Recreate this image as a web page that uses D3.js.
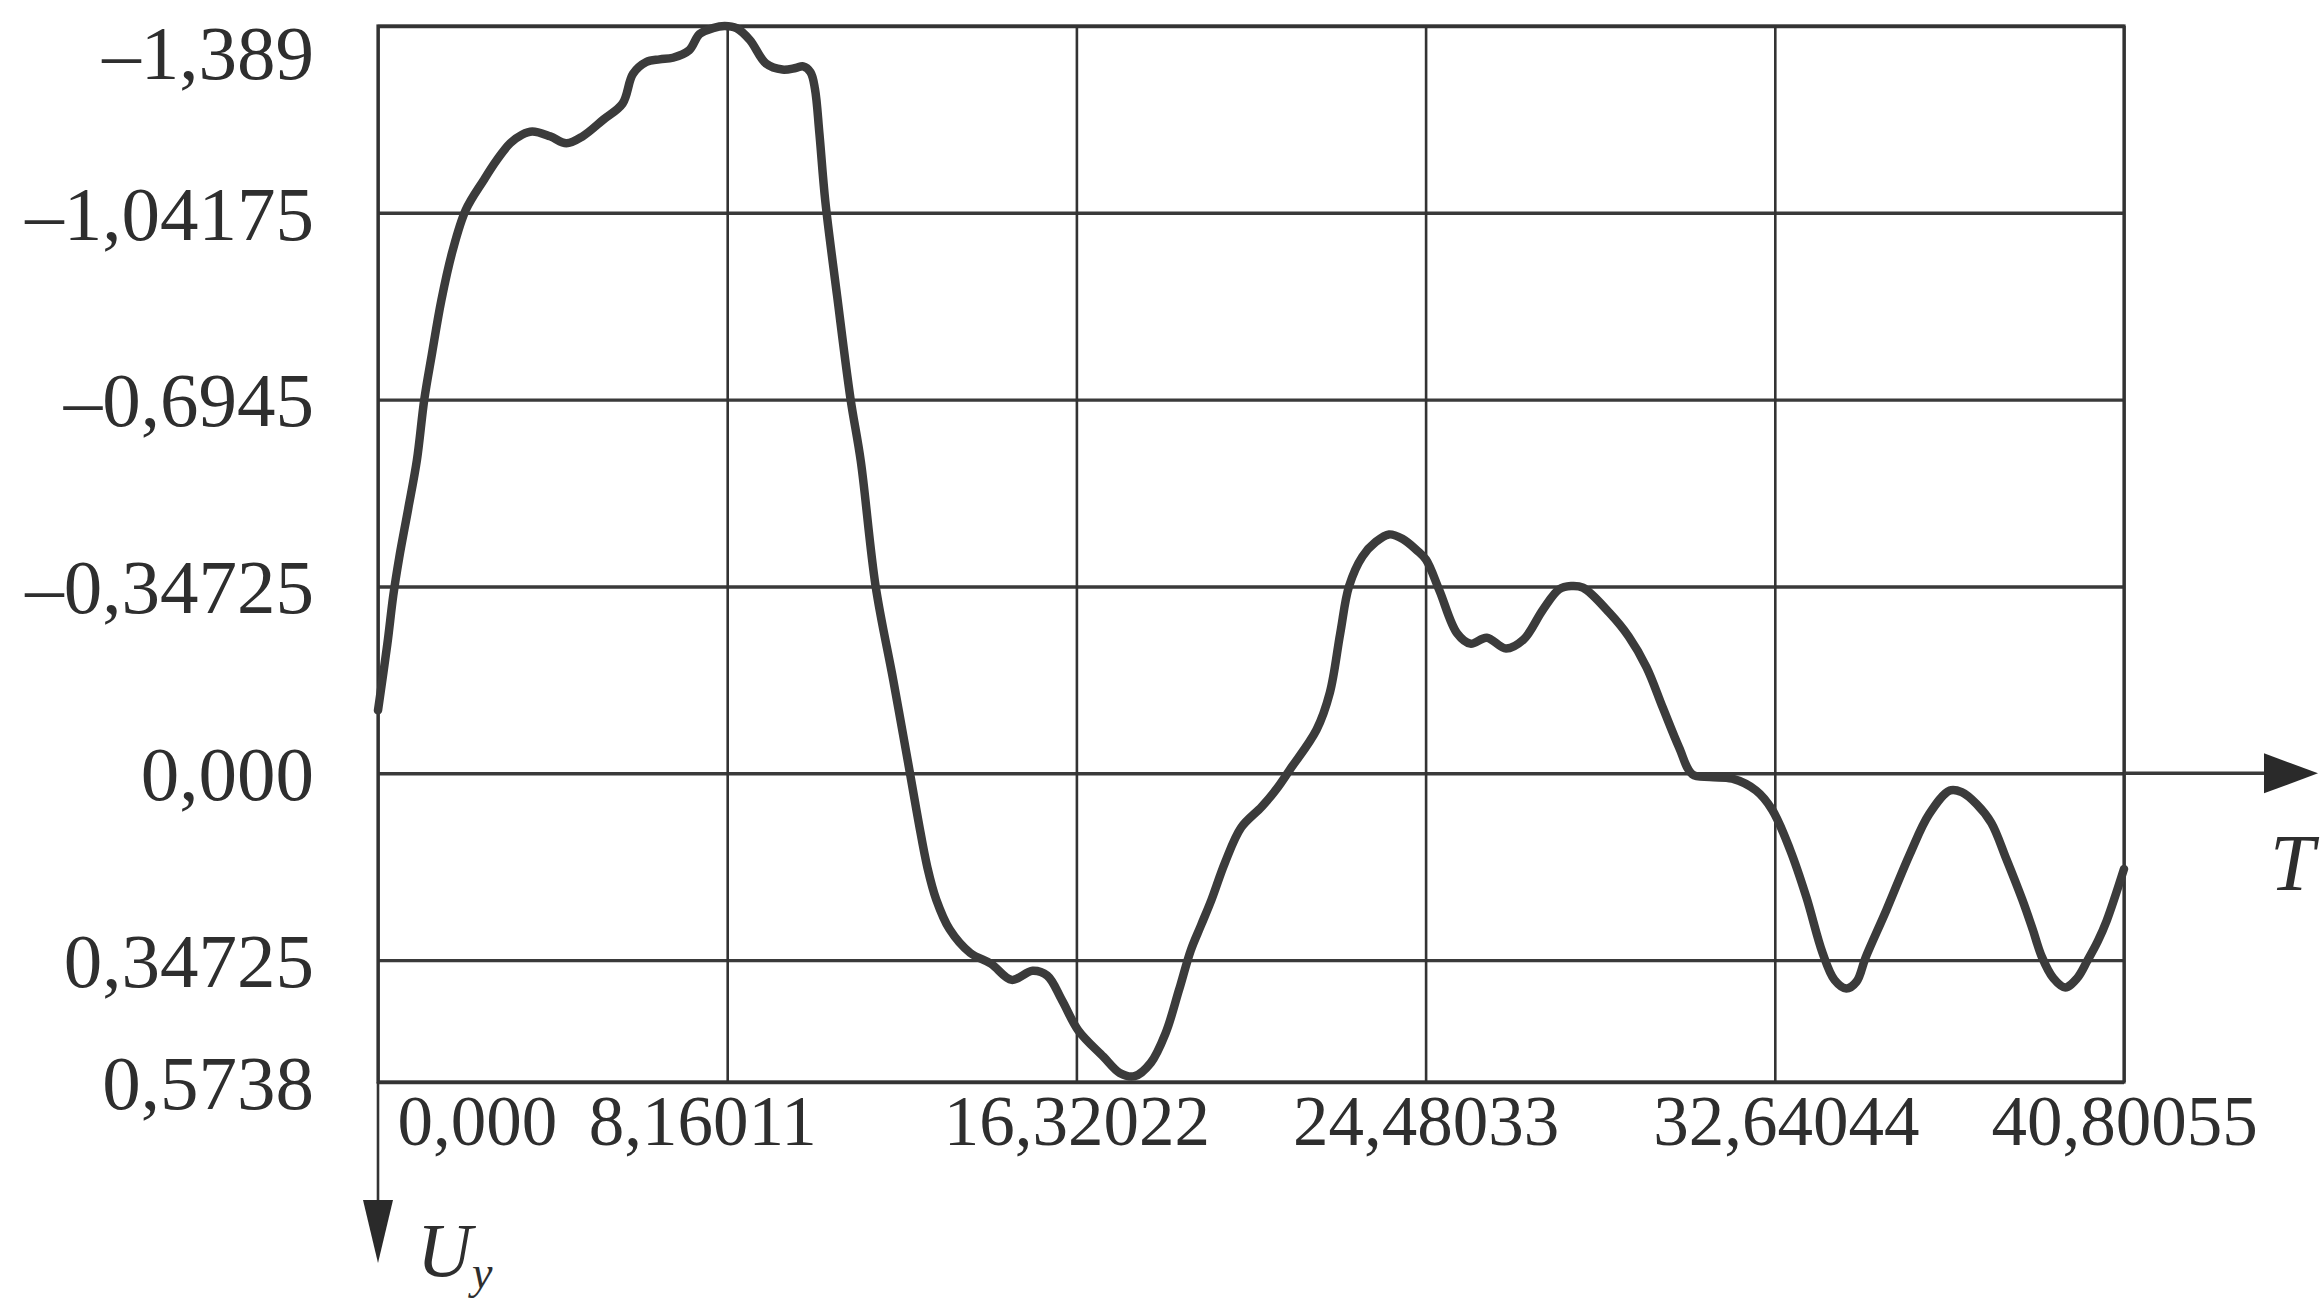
<!DOCTYPE html>
<meta charset="utf-8">
<head>
    <title>U_y(T)</title>
    <script src="https://d3js.org/d3.v7.min.js"></script>
    <style>
        body { margin: 0; background: #fff; }
        text { font-family: "Liberation Serif", "DejaVu Serif", serif; fill: #2e2e2e; }
    </style>
</head>
<body>
<script>
    // tick values and their printed labels (decimal comma as in the original)
    var xTicks = [0, 8.16011, 16.32022, 24.48033, 32.64044, 40.80055];
    var xLabels = ["0,000", "8,16011", "16,32022", "24,48033", "32,64044", "40,80055"];
    var yTicks = [-1.389, -1.04175, -0.6945, -0.34725, 0, 0.34725, 0.5738];
    var yLabels = ["\u20131,389", "\u20131,04175", "\u20130,6945", "\u20130,34725", "0,000", "0,34725", "0,5738"];

    // curve: time T and displacement U_y
    var tValues = [0.000, 0.218, 0.356, 0.494, 0.702, 0.909, 1.082, 1.255, 1.480, 1.739,
        2.050, 2.465, 2.777, 3.088, 3.364, 3.606, 4.021, 4.402, 4.782, 5.266,
        5.716, 5.958, 6.269, 6.580, 6.891, 7.272, 7.514, 7.825, 8.101, 8.378,
        8.689, 9.070, 9.450, 9.761, 9.934, 10.107, 10.211, 10.314, 10.453, 10.729,
        11.040, 11.282, 11.628, 12.043, 12.423, 12.631, 12.838, 13.046, 13.357, 13.841,
        14.325, 14.809, 15.293, 15.639, 15.985, 16.365, 16.953, 17.333, 17.679, 18.060,
        18.405, 18.717, 18.993, 19.235, 19.477, 19.788, 20.169, 20.653, 20.999, 21.310,
        21.932, 22.243, 22.485, 22.693, 23.004, 23.315, 23.626, 23.937, 24.283, 24.490,
        24.802, 25.217, 25.528, 25.909, 26.358, 26.773, 27.222, 27.602, 27.879, 28.156,
        28.778, 29.228, 29.643, 30.023, 30.404, 30.714, 31.129, 31.648, 32.202, 32.581,
        32.997, 33.377, 33.757, 34.034, 34.311, 34.553, 34.760, 35.244, 35.798, 36.247,
        36.731, 37.008, 37.354, 37.699, 38.045, 38.425, 38.667, 38.875, 39.151, 39.428,
        39.705, 39.947, 40.189, 40.396, 40.800];
    var uValues = [-0.117, -0.240, -0.330, -0.400, -0.490, -0.582, -0.695, -0.777, -0.879, -0.970,
        -1.047, -1.102, -1.140, -1.171, -1.187, -1.193, -1.184, -1.171, -1.184, -1.215,
        -1.245, -1.300, -1.322, -1.327, -1.330, -1.344, -1.374, -1.385, -1.389, -1.385,
        -1.363, -1.319, -1.308, -1.311, -1.314, -1.303, -1.272, -1.190, -1.063, -0.887,
        -0.697, -0.580, -0.348, -0.172, -0.004, 0.090, 0.175, 0.235, 0.290, 0.334,
        0.354, 0.384, 0.367, 0.376, 0.422, 0.478, 0.527, 0.557, 0.563, 0.538,
        0.483, 0.403, 0.329, 0.282, 0.235, 0.167, 0.101, 0.062, 0.029, -0.007,
        -0.081, -0.150, -0.260, -0.348, -0.403, -0.430, -0.444, -0.436, -0.414, -0.397,
        -0.340, -0.260, -0.241, -0.252, -0.232, -0.249, -0.304, -0.342, -0.348, -0.345,
        -0.298, -0.254, -0.197, -0.122, -0.048, 0.002, 0.007, 0.010, 0.032, 0.068,
        0.142, 0.230, 0.334, 0.384, 0.400, 0.387, 0.343, 0.255, 0.150, 0.076,
        0.032, 0.035, 0.057, 0.092, 0.158, 0.235, 0.290, 0.340, 0.381, 0.398,
        0.381, 0.348, 0.312, 0.274, 0.178];

    var W = 2320, H = 1303;
    // plot box (note: "top" is taken by window.top, so use prefixed names)
    var plotL = 378, plotR = 2124, plotT = 26, plotB = 1082;
    var ink = "#333";

    var svg = d3.select("body").append("svg")
        .attr("width", W)
        .attr("height", H);

    var x = d3.scaleLinear().domain([0, 40.80055]).range([plotL, plotR]);
    // U_y grows downward
    var y = d3.scaleLinear().domain([-1.389, 0.5738]).range([plotT, plotB]);

    // horizontal grid + y labels
    var gy = svg.append("g")
        .attr("transform", "translate(" + plotL + ",0)")
        .call(d3.axisLeft(y).tickValues(yTicks).tickSize(-(plotR - plotL)).tickPadding(64)
            .tickFormat(function(d, i) { return yLabels[i]; }));
    gy.select(".domain").remove();
    gy.selectAll(".tick line").attr("stroke", "#3a3a3a").attr("stroke-width", 3.4);
    gy.selectAll(".tick text")
        .attr("font-size", 77)
        .attr("font-family", null)
        .attr("dy", function(d, i) { return i == 0 ? "0.68em" : "0.34em"; });

    // vertical grid + x labels
    var gx = svg.append("g")
        .attr("transform", "translate(0," + plotB + ")")
        .call(d3.axisBottom(x).tickValues(xTicks).tickSize(-(plotB - plotT)).tickPadding(13)
            .tickFormat(function(d, i) { return xLabels[i]; }));
    gx.select(".domain").remove();
    gx.selectAll(".tick line").attr("stroke", "#333").attr("stroke-width", 2.6);
    gx.selectAll(".tick text")
        .attr("font-size", 71)
        .attr("font-family", null)
        .attr("text-anchor", function(d, i) { return i == 0 ? "start" : "middle"; })
        .attr("dx", function(d, i) { return i == 0 ? 19 : (i == 1 ? -25 : (i == 4 ? 11 : 0)); });

    // frame
    svg.append("rect")
        .attr("x", plotL).attr("y", plotT)
        .attr("width", plotR - plotL).attr("height", plotB - plotT)
        .attr("fill", "none")
        .attr("stroke", ink)
        .attr("stroke-width", 3.2);

    // the response curve
    var data = tValues.map(function(t, i) { return { t: t, u: uValues[i] }; });
    var line = d3.line()
        .x(function(d) { return x(d.t); })
        .y(function(d) { return y(d.u); })
        .curve(d3.curveCatmullRom.alpha(0.5));

    svg.append("path")
        .datum(data)
        .attr("d", line)
        .attr("fill", "none")
        .attr("stroke", "#3b3b3b")
        .attr("stroke-width", 8.5)
        .attr("stroke-linejoin", "round")
        .attr("stroke-linecap", "round");

    // T axis arrow along the zero line
    var y0 = y(0);
    svg.append("line")
        .attr("x1", plotR).attr("x2", 2268)
        .attr("y1", y0).attr("y2", y0)
        .attr("stroke", "#3a3a3a").attr("stroke-width", 3.4);
    svg.append("path")
        .attr("d", "M2264," + (y0 - 20) + "L2318," + y0 + "L2264," + (y0 + 20) + "Z")
        .attr("fill", "#2a2a2a");
    svg.append("text")
        .attr("x", 2270).attr("y", 890)
        .attr("font-size", 80)
        .attr("font-style", "italic")
        .text("T");

    // U_y axis arrow pointing down
    svg.append("line")
        .attr("x1", plotL).attr("x2", plotL)
        .attr("y1", plotB).attr("y2", 1205)
        .attr("stroke", ink).attr("stroke-width", 2.6);
    svg.append("path")
        .attr("d", "M" + (plotL - 15) + ",1200L" + (plotL + 15) + ",1200L" + plotL + ",1263Z")
        .attr("fill", "#2a2a2a");
    var ul = svg.append("text")
        .attr("x", 417).attr("y", 1276)
        .attr("font-size", 76)
        .attr("font-style", "italic");
    ul.append("tspan").text("U");
    ul.append("tspan").attr("font-size", 46).attr("dy", 12).text("y");
</script>
</body>
